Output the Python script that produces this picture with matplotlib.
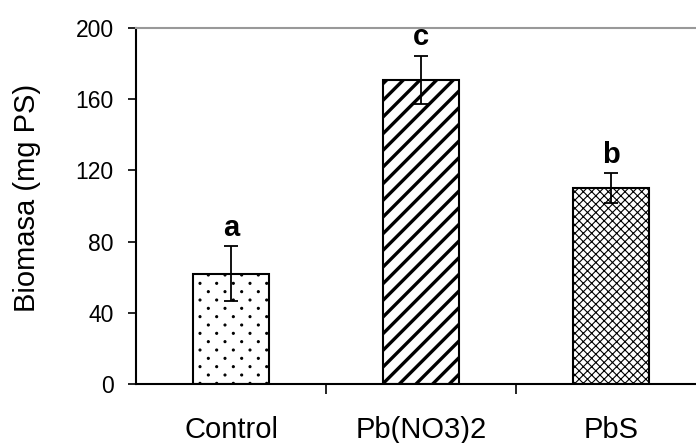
import matplotlib
matplotlib.use("Agg")
import matplotlib.pyplot as plt
import numpy as np
from matplotlib import hatch as mhatch
from matplotlib.path import Path

categories = ["Control", "Pb(NO3)2", "PbS"]
values = [62, 171, 110]
errors = [15.5, 13.5, 8.5]
letters = ["a", "c", "b"]
yticks = [0, 40, 80, 120, 160, 200]
ylabel = "Biomasa (mg PS)"

hatches = [".", "//", "xxxx"]
hatch_lw = [0.8, 2.4, 0.8]


# Dot texture laid out as a diagonal lattice (rows twice as dense as columns)
class DotLattice(mhatch.HatchPatternBase):
    def __init__(self, hatch, density):
        n = hatch.count('.')
        circ = Path.unit_circle()
        self.shape_vertices = circ.vertices
        self.shape_codes = circ.codes
        self.ncols = n * density
        self.nrows = 2 * self.ncols
        if n:
            count = 0
            for r in range(self.nrows + 1):
                count += (self.ncols + 1) if r % 2 == 0 else self.ncols
            self.num_vertices = count * len(self.shape_vertices)
        else:
            self.num_vertices = 0

    def set_vertices_and_codes(self, vertices, codes):
        colstep = 1.0 / self.ncols
        rowstep = 1.0 / self.nrows
        sv = self.shape_vertices * colstep * 0.06
        vparts, cparts = [], []
        for r in range(self.nrows + 1):
            if r % 2 == 0:
                cols = np.linspace(0, 1, self.ncols + 1)
            else:
                cols = np.linspace(colstep / 2, 1 - colstep / 2, self.ncols)
            for c in cols:
                vparts.append(sv + [c, r * rowstep])
                cparts.append(self.shape_codes)
        np.concatenate(vparts, out=vertices)
        np.concatenate(cparts, out=codes)


try:
    mhatch._hatch_types = [DotLattice if t is mhatch.SmallFilledCircles else t
                           for t in mhatch._hatch_types]
except Exception:
    pass

plt.rcParams['font.family'] = ['Liberation Sans', 'DejaVu Sans']
plt.rcParams['hatch.color'] = 'black'

fig = plt.figure(figsize=(6.96, 4.43), dpi=100)
ax = fig.add_axes([136/696, 59/443, 570/696, 356/443])

x = np.arange(len(categories))
bars = ax.bar(x, values, width=0.4, color='white', edgecolor='black', linewidth=1.5, zorder=2)
for b, h, lw in zip(bars, hatches, hatch_lw):
    b.set_hatch(h)
    if hasattr(b, 'set_hatch_linewidth'):
        b.set_hatch_linewidth(lw)

ax.errorbar(x, values, yerr=errors, fmt='none', ecolor='black', elinewidth=1.3,
            capsize=5, capthick=1.3, zorder=3)

for xi, v, e, t in zip(x, values, errors, letters):
    ax.annotate(t, (xi, v + e), xytext=(0, 3), textcoords='offset points',
                ha='center', va='bottom', fontsize=21, fontweight='bold')

ax.set_xlim(-0.5, 2.5)
ax.set_ylim(0, 200)
ax.set_yticks(yticks)
ax.set_yticklabels([str(t) for t in yticks], fontsize=16.5)
ax.set_ylabel(ylabel, fontsize=21)
ax.yaxis.set_label_coords(-0.191, 0.524)
ax.yaxis.label.set_verticalalignment('center')

ax.set_xticks(x + 0.5)
ax.set_xticklabels([])
ax.tick_params(axis='x', direction='out', length=7, width=1.2, color='black')
ax.tick_params(axis='y', direction='out', length=6, width=1.2, color='black', pad=10)
for xi, c in zip(x, categories):
    ax.text(xi, -32/356, c, transform=ax.get_xaxis_transform(), ha='center', va='top', fontsize=21)

ax.spines['left'].set_linewidth(1.5)
ax.spines['bottom'].set_linewidth(1.5)
ax.spines['top'].set_color('#999999')
ax.spines['top'].set_linewidth(1.5)
ax.spines['right'].set_visible(False)

fig.savefig("out.png", dpi=100)
